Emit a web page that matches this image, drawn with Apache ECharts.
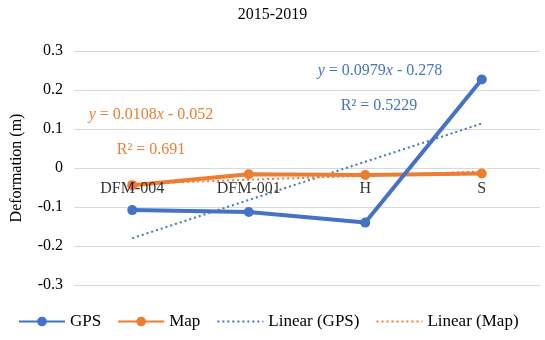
<!DOCTYPE html>
<html>
<head>
<meta charset="utf-8">
<script src="https://cdn.jsdelivr.net/npm/echarts@6/dist/echarts.min.js"></script>
<style>html,body{margin:0;padding:0;background:#fff}#c{width:545px;height:340px}</style>
</head>
<body>
<div id="c"></div>
<script>
const categories = ['DFM-004', 'DFM-001', 'H', 'S'];
const gpsValues = [-0.108, -0.113, -0.140, 0.227];
const mapValues = [-0.044, -0.016, -0.018, -0.014];
// trend values (Excel linear trendlines)
const gpsTrend = [-0.180, -0.082, 0.016, 0.114];
const mapTrend = [-0.041, -0.030, -0.020, -0.009];
const yTicks = [-0.3, -0.2, -0.1, 0, 0.1, 0.2, 0.3];
const axisCross = 0; // category axis crosses the value axis at 0

const BLUE = '#4472C4', ORANGE = '#ED7D31';
const FONT = 'Liberation Serif';

const chart = echarts.init(document.getElementById('c'), null, {renderer: 'canvas'});
const hidden = {color: 'rgba(0,0,0,0)', borderWidth: 0, opacity: 0};
chart.setOption({
  backgroundColor: '#fff',
  animation: false,
  textStyle: {fontFamily: FONT},
  title: {
    text: '2015-2019', left: 'center', top: 2,
    textStyle: {fontFamily: FONT, fontSize: 16, fontWeight: 'normal', color: '#000'}
  },
  grid: {left: 74, right: 5, top: 51, bottom: 55, containLabel: false, outerBoundsMode: 'none'},
  legend: {
    left: 13, bottom: 5, itemWidth: 46, itemHeight: 12, itemGap: 16,
    textStyle: {fontFamily: FONT, fontSize: 17, color: '#000'},
    data: ['GPS', 'Map',
      {name: 'Linear (GPS)', itemStyle: hidden},
      {name: 'Linear (Map)', itemStyle: hidden}]
  },
  xAxis: {
    type: 'category', data: categories, boundaryGap: true,
    axisLine: {show: false},
    axisTick: {show: false},
    axisLabel: {show: false},
    splitLine: {show: false}
  },
  yAxis: {
    type: 'value', min: yTicks[0], max: yTicks[yTicks.length - 1], interval: 0.1,
    name: 'Deformation (m)', nameLocation: 'middle', nameGap: 49,
    nameTextStyle: {fontFamily: FONT, fontSize: 16, color: '#000'},
    axisLine: {show: false}, axisTick: {show: false},
    axisLabel: {fontFamily: FONT, fontSize: 16, color: '#000', margin: 11,
      formatter: v => String(Math.round(v * 10) / 10)},
    splitLine: {lineStyle: {color: '#D9D9D9', width: 1}}
  },
  series: [
    {name: 'Linear (GPS)', type: 'line', data: gpsTrend, showSymbol: false, symbol: 'none',
     lineStyle: {color: BLUE, width: 2, type: [2, 3]}, itemStyle: {color: BLUE}, z: 1},
    {name: 'Linear (Map)', type: 'line', data: mapTrend, showSymbol: false, symbol: 'none',
     lineStyle: {color: ORANGE, width: 2, type: [2, 3]}, itemStyle: {color: ORANGE}, z: 1},
    {name: 'GPS', type: 'line', data: gpsValues, symbol: 'circle', symbolSize: 10,
     lineStyle: {color: BLUE, width: 4}, itemStyle: {color: BLUE}, z: 3},
    {name: 'Map', type: 'line', data: mapValues, symbol: 'circle', symbolSize: 10,
     lineStyle: {color: ORANGE, width: 4}, itemStyle: {color: ORANGE}, z: 2},
    {name: 'axisLabels', type: 'scatter', silent: true, symbol: 'circle', symbolSize: 1, z: 10,
     itemStyle: {color: 'rgba(0,0,0,0)'},
     data: categories.map(c => ({name: c, value: [c, axisCross]})),
     label: {show: true, position: 'inside', offset: [0, 21], formatter: p => p.name,
       fontFamily: FONT, fontSize: 16, color: '#000', textBorderWidth: 0, textBorderColor: 'transparent'},
     emphasis: {disabled: true}}
  ],
  graphic: [
    {type: 'text', x: 380, y: 71, style: {text: '{i|y} = 0.0979{i|x} - 0.278', fill: BLUE,
      fontFamily: FONT, fontSize: 16, align: 'center', verticalAlign: 'middle',
      rich: {i: {fontStyle: 'italic', fontFamily: FONT, fontSize: 16, fill: BLUE}}}},
    {type: 'text', x: 379, y: 106, style: {text: 'R² = 0.5229', fill: BLUE,
      fontFamily: FONT, fontSize: 16, align: 'center', verticalAlign: 'middle'}},
    {type: 'text', x: 151, y: 115, style: {text: '{i|y} = 0.0108{i|x} - 0.052', fill: ORANGE,
      fontFamily: FONT, fontSize: 16, align: 'center', verticalAlign: 'middle',
      rich: {i: {fontStyle: 'italic', fontFamily: FONT, fontSize: 16, fill: ORANGE}}}},
    {type: 'text', x: 151, y: 150, style: {text: 'R² = 0.691', fill: ORANGE,
      fontFamily: FONT, fontSize: 16, align: 'center', verticalAlign: 'middle'}}
  ]
});
</script>
</body>
</html>
